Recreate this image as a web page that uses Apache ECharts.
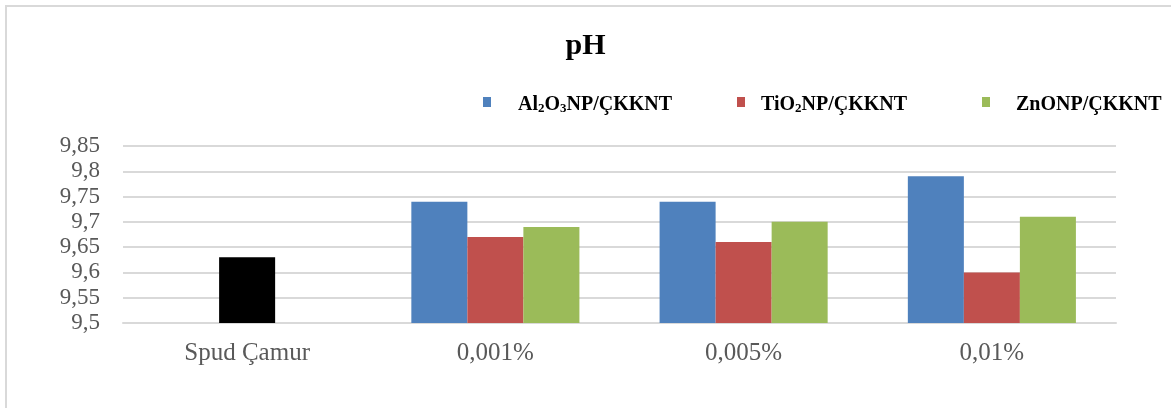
<!DOCTYPE html>
<html>
<head>
<meta charset="utf-8">
<script src="https://cdn.jsdelivr.net/npm/echarts@6/dist/echarts.min.js"></script>
<style>
  html, body { margin: 0; padding: 0; background: #ffffff; }
  #chart { width: 1171px; height: 408px; }
</style>
</head>
<body>
<div id="chart"></div>
<script>
// pH of the drilling mud for each nanoparticle concentration
const categories = ['Spud Çamur', '0,001%', '0,005%', '0,01%'];
const seriesNames = ['Al2O3NP/ÇKKNT', 'TiO2NP/ÇKKNT', 'ZnONP/ÇKKNT'];
const al2o3Values = [null, 9.74, 9.74, 9.79];
const tio2Values = [null, 9.67, 9.66, 9.60];
const znoValues = [null, 9.69, 9.70, 9.71];
const spudValue = 9.63; // base mud, drawn in the middle slot of its group
const yTicks = { min: 9.5, max: 9.85, interval: 0.05 };

const colors = ['#4f81bd', '#c0504d', '#9bbb59'];
const serif = '"Liberation Serif", "Times New Roman", serif';

// legend labels with subscripts
const legendRich = {
  b: { fontFamily: serif, fontWeight: 'bold', fontSize: 20, color: '#000', lineHeight: 26, verticalAlign: 'bottom' },
  s: { fontFamily: serif, fontWeight: 'bold', fontSize: 13, color: '#000', lineHeight: 14, verticalAlign: 'bottom' }
};
const legendText = {
  'Al2O3NP/ÇKKNT': '{b|Al}{s|2}{b|O}{s|3}{b|NP/ÇKKNT}',
  'TiO2NP/ÇKKNT': '{b|TiO}{s|2}{b|NP/ÇKKNT}',
  'ZnONP/ÇKKNT': '{b|ZnONP/ÇKKNT}'
};
const legendLeft = [478, 732, 977];
const legendTextGap = [22, 11, 21];

const tio2Data = tio2Values.slice();
tio2Data[0] = { value: spudValue, itemStyle: { color: '#000000' } };

const chart = echarts.init(document.getElementById('chart'), null, { renderer: 'canvas' });
chart.setOption({
  animation: false,
  backgroundColor: '#ffffff',
  title: {
    text: 'pH',
    left: 'center',
    top: 26,
    textStyle: { fontFamily: serif, fontWeight: 'bold', fontSize: 30, color: '#000' }
  },
  legend: seriesNames.map((name, i) => ({
    data: [name],
    left: legendLeft[i],
    top: 90,
    itemWidth: 8,
    itemHeight: 10,
    icon: 'rect',
    selectedMode: false,
    formatter: n => legendText[n],
    textStyle: { padding: [0, 0, 0, legendTextGap[i]], rich: legendRich }
  })),
  grid: { left: 123, right: 55, top: 146, bottom: 85 },
  xAxis: {
    type: 'category',
    data: categories,
    axisLine: { show: true, lineStyle: { color: '#d9d9d9', width: 2 } },
    axisTick: { show: false },
    axisLabel: { fontFamily: serif, fontSize: 25, color: '#595959', margin: 18 }
  },
  yAxis: {
    type: 'value',
    min: yTicks.min,
    max: yTicks.max,
    interval: yTicks.interval,
    axisLine: { show: false },
    axisTick: { show: false },
    splitLine: { lineStyle: { color: '#d9d9d9', width: 2 } },
    axisLabel: {
      fontFamily: serif, fontSize: 23, color: '#595959', margin: 23,
      formatter: v => String(parseFloat(v.toFixed(2))).replace('.', ',')
    }
  },
  series: [
    { name: seriesNames[0], type: 'bar', data: al2o3Values, itemStyle: { color: colors[0] }, barGap: '0%', barCategoryGap: '32.3%' },
    { name: seriesNames[1], type: 'bar', data: tio2Data, itemStyle: { color: colors[1] }, barGap: '0%', barCategoryGap: '32.3%' },
    { name: seriesNames[2], type: 'bar', data: znoValues, itemStyle: { color: colors[2] }, barGap: '0%', barCategoryGap: '32.3%' }
  ],
  graphic: [{
    type: 'rect',
    silent: true,
    shape: { x: 6, y: 6, width: 1300, height: 600 },
    style: { fill: 'none', stroke: '#d9d9d9', lineWidth: 2 }
  }]
});
</script>
</body>
</html>
